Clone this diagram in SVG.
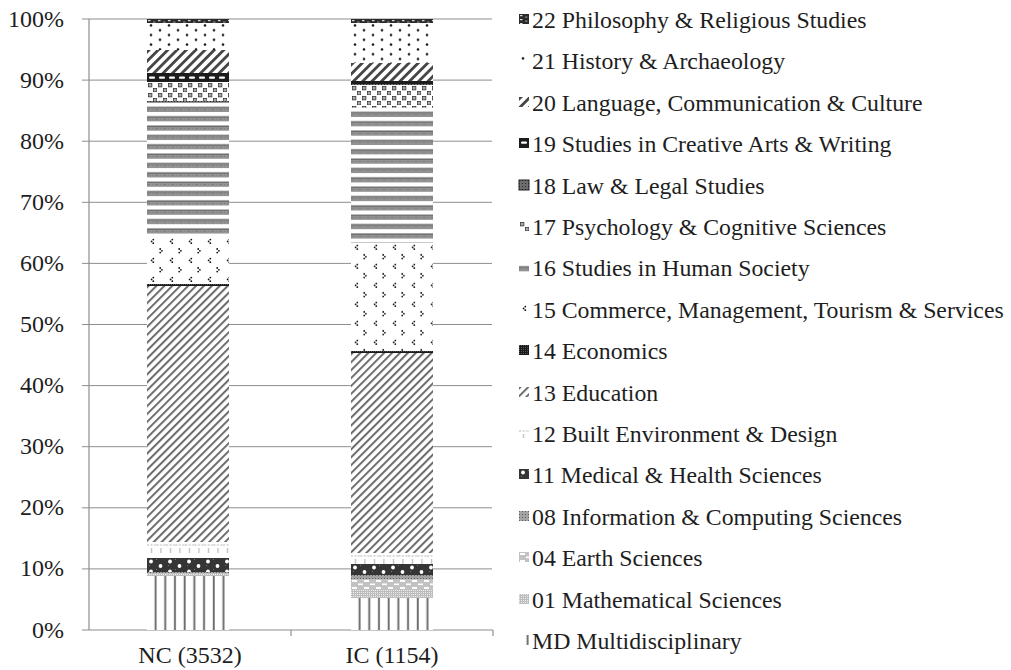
<svg xmlns="http://www.w3.org/2000/svg" width="1011" height="670" viewBox="0 0 1011 670">
<style>
.grid{stroke:#8e8e8e;stroke-width:1;fill:none}
.axis{stroke:#8e8e8e;stroke-width:1.2;fill:none}
.lbl{font-family:"Liberation Serif","Times New Roman",serif;font-size:24px;fill:#1e1e1e}
.leg{font-size:23.8px}
.yl{text-anchor:end}
.xl{text-anchor:middle}
</style>
<defs>
<pattern id="pMD" width="9.7" height="10" patternUnits="userSpaceOnUse"><rect width="9.7" height="10" fill="#fff"/><rect x="7.6" width="1.9" height="10" fill="#6a6a6a"/></pattern>
<pattern id="p01" width="2" height="2" patternUnits="userSpaceOnUse"><rect width="2" height="2" fill="#bdbdbd"/><rect width="1" height="1" fill="#ececec"/></pattern>
<pattern id="p04" width="12" height="7" patternUnits="userSpaceOnUse"><rect width="12" height="7" fill="#c2c2c2"/><rect x="1" y="1" width="5" height="2" fill="#fff"/><rect x="7" y="4.5" width="5" height="1.6" fill="#fff"/></pattern>
<pattern id="p08" width="3" height="3" patternUnits="userSpaceOnUse"><rect width="3" height="3" fill="#a3a3a3"/><rect width="1" height="1" fill="#5e5e5e"/></pattern>
<pattern id="p11" width="19" height="10" patternUnits="userSpaceOnUse"><rect width="19" height="10" fill="#353535"/><rect x="9" y="1" width="1" height="1" fill="#777"/><rect x="2" y="7" width="1" height="1" fill="#777"/><circle cx="4" cy="3.5" r="1.9" fill="#fff"/><circle cx="13.5" cy="8" r="1.9" fill="#fff"/></pattern>
<pattern id="p12" width="9.5" height="16" patternUnits="userSpaceOnUse"><rect width="9.5" height="16" fill="#fff"/><line x1="0" y1="3" x2="9.5" y2="3" stroke="#b0b0b0" stroke-width="0.9" stroke-dasharray="2 1.5"/><line x1="4.5" y1="6" x2="4.5" y2="11" stroke="#a0a0a0" stroke-width="0.9"/></pattern>
<pattern id="p13" width="5.6" height="5.6" patternUnits="userSpaceOnUse" patternTransform="rotate(45)"><rect width="5.6" height="5.6" fill="#fff"/><rect width="2" height="5.6" fill="#6c6c6c"/></pattern>
<pattern id="p14" width="2" height="2" patternUnits="userSpaceOnUse"><rect width="2" height="2" fill="#1a1a1a"/><rect width="1" height="1" fill="#555"/></pattern>
<pattern id="p15" width="19" height="19" patternUnits="userSpaceOnUse"><rect width="19" height="19" fill="#fff"/><g fill="#111"><circle cx="6.3" cy="2.6" r="0.9"/><circle cx="4.6" cy="4.4" r="0.9"/><circle cx="6.3" cy="6.2" r="0.9"/><circle cx="13.2" cy="12" r="0.9"/><circle cx="14.9" cy="13.8" r="0.9"/><circle cx="13.2" cy="15.6" r="0.9"/></g></pattern>
<pattern id="p16" width="82" height="9.35" patternUnits="userSpaceOnUse"><rect width="82" height="9.35" fill="#fff"/><rect y="4.35" width="82" height="5" fill="#939393"/><rect y="4.35" width="82" height="1" fill="#5c5c5c"/><line x1="0" y1="7" x2="82" y2="7" stroke="#777" stroke-width="0.8" stroke-dasharray="3 2 1 2"/></pattern>
<pattern id="p17" width="10" height="10" patternUnits="userSpaceOnUse"><rect width="10" height="10" fill="#fff"/><rect x="1.5" y="1.5" width="3.4" height="3.4" fill="#a8a8a8" stroke="#2a2a2a" stroke-width="0.7"/><rect x="6.5" y="6.5" width="3.4" height="3.4" fill="#a8a8a8" stroke="#2a2a2a" stroke-width="0.7"/></pattern>
<pattern id="p18" width="3" height="3" patternUnits="userSpaceOnUse"><rect width="3" height="3" fill="#6e6e6e"/><rect width="1" height="1" fill="#2a2a2a"/></pattern>
<pattern id="p19" width="10" height="9" patternUnits="userSpaceOnUse"><rect width="10" height="9" fill="#1c1c1c"/><rect x="2" y="3.4" width="6" height="2.4" rx="1" fill="#fff"/></pattern>
<pattern id="p20" width="6.6" height="6.6" patternUnits="userSpaceOnUse" patternTransform="rotate(45)"><rect width="6.6" height="6.6" fill="#fff"/><rect width="2.8" height="6.6" fill="#464646"/></pattern>
<pattern id="p21" width="18" height="9.6" patternUnits="userSpaceOnUse"><rect width="18" height="9.6" fill="#fff"/><circle cx="4" cy="2.4" r="1.3" fill="#111"/><circle cx="13" cy="7.2" r="1.3" fill="#111"/></pattern>
<pattern id="p22" width="10" height="4" patternUnits="userSpaceOnUse"><rect width="10" height="4" fill="#2b2b2b"/><rect x="1" y="1" width="2.5" height="1.2" fill="#ddd"/><rect x="6" y="2.6" width="2.5" height="1" fill="#999"/></pattern>
</defs>

<g id="axes">
<line class="grid" x1="82" y1="19" x2="492" y2="19"/>
<line class="grid" x1="82" y1="80.1" x2="492" y2="80.1"/>
<line class="grid" x1="82" y1="141.2" x2="492" y2="141.2"/>
<line class="grid" x1="82" y1="202.3" x2="492" y2="202.3"/>
<line class="grid" x1="82" y1="263.4" x2="492" y2="263.4"/>
<line class="grid" x1="82" y1="324.5" x2="492" y2="324.5"/>
<line class="grid" x1="82" y1="385.6" x2="492" y2="385.6"/>
<line class="grid" x1="82" y1="446.7" x2="492" y2="446.7"/>
<line class="grid" x1="82" y1="507.8" x2="492" y2="507.8"/>
<line class="grid" x1="82" y1="568.9" x2="492" y2="568.9"/>
<line class="axis" x1="82" y1="630" x2="493" y2="630"/>
<line class="axis" x1="89" y1="19" x2="89" y2="630"/>
<line class="axis" x1="291" y1="630" x2="291" y2="636"/>
<line class="axis" x1="493" y1="630" x2="493" y2="636"/>
</g>

<g id="bar-NC">
<rect transform="translate(147,576)" width="82" height="54" fill="url(#pMD)"/>
<rect transform="translate(147,574)" width="82" height="2" fill="url(#p01)"/>
<rect transform="translate(147,573)" width="82" height="1" fill="url(#p04)"/>
<rect transform="translate(147,572)" width="82" height="1" fill="url(#p08)"/>
<rect transform="translate(147,558)" width="82" height="14" fill="url(#p11)"/>
<rect transform="translate(147,542)" width="82" height="16" fill="url(#p12)"/>
<rect transform="translate(147,286)" width="82" height="256" fill="url(#p13)"/>
<rect transform="translate(147,284)" width="82" height="2" fill="url(#p14)"/>
<rect transform="translate(147,237)" width="82" height="47" fill="url(#p15)"/>
<rect transform="translate(147,102.65)" width="82" height="134.35" fill="url(#p16)"/>
<rect transform="translate(147,101)" width="82" height="1.65" fill="url(#p18)"/>
<rect transform="translate(147,82)" width="82" height="19" fill="url(#p17)"/>
<rect transform="translate(147,73)" width="82" height="9" fill="url(#p19)"/>
<rect transform="translate(147,50)" width="82" height="23" fill="url(#p20)"/>
<rect transform="translate(147,23)" width="82" height="27" fill="url(#p21)"/>
<rect transform="translate(147,19)" width="82" height="4" fill="url(#p22)"/>
</g>

<g id="bar-IC">
<rect transform="translate(351,598)" width="82" height="32" fill="url(#pMD)"/>
<rect transform="translate(351,590)" width="82" height="8" fill="url(#p01)"/>
<rect transform="translate(351,579)" width="82" height="11" fill="url(#p04)"/>
<rect transform="translate(351,575)" width="82" height="4" fill="url(#p08)"/>
<rect transform="translate(351,564)" width="82" height="11" fill="url(#p11)"/>
<rect transform="translate(351,553)" width="82" height="11" fill="url(#p12)"/>
<rect transform="translate(351,353)" width="82" height="200" fill="url(#p13)"/>
<rect transform="translate(351,351)" width="82" height="2" fill="url(#p14)"/>
<rect transform="translate(351,242.9)" width="82" height="108.1" fill="url(#p15)"/>
<rect transform="translate(351,107.65)" width="82" height="135.25" fill="url(#p16)"/>
<rect transform="translate(351,85)" width="82" height="22.65" fill="url(#p17)"/>
<rect transform="translate(351,84)" width="82" height="1" fill="url(#p18)"/>
<rect transform="translate(351,81)" width="82" height="3" fill="url(#p19)"/>
<rect transform="translate(351,63)" width="82" height="18" fill="url(#p20)"/>
<rect transform="translate(351,23)" width="82" height="40" fill="url(#p21)"/>
<rect transform="translate(351,19)" width="82" height="4" fill="url(#p22)"/>
</g>

<g id="y-labels" class="lbl yl">
<text x="64" y="27">100%</text>
<text x="64" y="88">90%</text>
<text x="64" y="149">80%</text>
<text x="64" y="210">70%</text>
<text x="64" y="271">60%</text>
<text x="64" y="332">50%</text>
<text x="64" y="393">40%</text>
<text x="64" y="454">30%</text>
<text x="64" y="515">20%</text>
<text x="64" y="576">10%</text>
<text x="64" y="638">0%</text>
</g>

<g id="x-labels" class="lbl xl">
<text x="190" y="663">NC (3532)</text>
<text x="392" y="663">IC (1154)</text>
</g>

<g id="legend" class="lbl leg">
<g id="leg-22"><rect transform="translate(519,14)" width="10" height="10" fill="url(#p22)"/><text x="532" y="28">22 Philosophy &amp; Religious Studies</text></g>
<g id="leg-21"><rect transform="translate(519,56)" width="10" height="10" fill="url(#p21)"/><text x="532" y="69.4">21 History &amp; Archaeology</text></g>
<g id="leg-20"><rect transform="translate(519,97)" width="10" height="10" fill="url(#p20)"/><text x="532" y="110.8">20 Language, Communication &amp; Culture</text></g>
<g id="leg-19"><rect transform="translate(519,138)" width="10" height="10" fill="url(#p19)"/><text x="532" y="152.2">19 Studies in Creative Arts &amp; Writing</text></g>
<g id="leg-18"><rect transform="translate(519,180)" width="10" height="10" fill="url(#p18)" stroke="#222" stroke-width="1"/><text x="532" y="193.6">18 Law &amp; Legal Studies</text></g>
<g id="leg-17"><rect transform="translate(519,221)" width="10" height="10" fill="url(#p17)"/><text x="532" y="235">17 Psychology &amp; Cognitive Sciences</text></g>
<g id="leg-16"><rect transform="translate(519,262)" width="10" height="10" fill="url(#p16)"/><text x="532" y="276.4">16 Studies in Human Society</text></g>
<g id="leg-15"><rect transform="translate(519,304)" width="10" height="10" fill="url(#p15)"/><text x="532" y="317.8">15 Commerce, Management, Tourism &amp; Services</text></g>
<g id="leg-14"><rect transform="translate(519,345)" width="10" height="10" fill="url(#p14)"/><text x="532" y="359.2">14 Economics</text></g>
<g id="leg-13"><rect transform="translate(519,387)" width="10" height="10" fill="url(#p13)"/><text x="532" y="400.6">13 Education</text></g>
<g id="leg-12"><rect transform="translate(519,428)" width="10" height="10" fill="url(#p12)"/><text x="532" y="442">12 Built Environment &amp; Design</text></g>
<g id="leg-11"><rect transform="translate(519,469)" width="10" height="10" fill="url(#p11)"/><text x="532" y="483.4">11 Medical &amp; Health Sciences</text></g>
<g id="leg-08"><rect transform="translate(519,511)" width="10" height="10" fill="url(#p08)"/><text x="532" y="524.8">08 Information &amp; Computing Sciences</text></g>
<g id="leg-04"><rect transform="translate(519,552)" width="10" height="10" fill="url(#p04)"/><text x="532" y="566.2">04 Earth Sciences</text></g>
<g id="leg-01"><rect transform="translate(519,594)" width="10" height="10" fill="url(#p01)"/><text x="532" y="607.6">01 Mathematical Sciences</text></g>
<g id="leg-MD"><rect transform="translate(519,635)" width="10" height="10" fill="url(#pMD)"/><text x="532" y="649">MD Multidisciplinary</text></g>
</g>
</svg>
